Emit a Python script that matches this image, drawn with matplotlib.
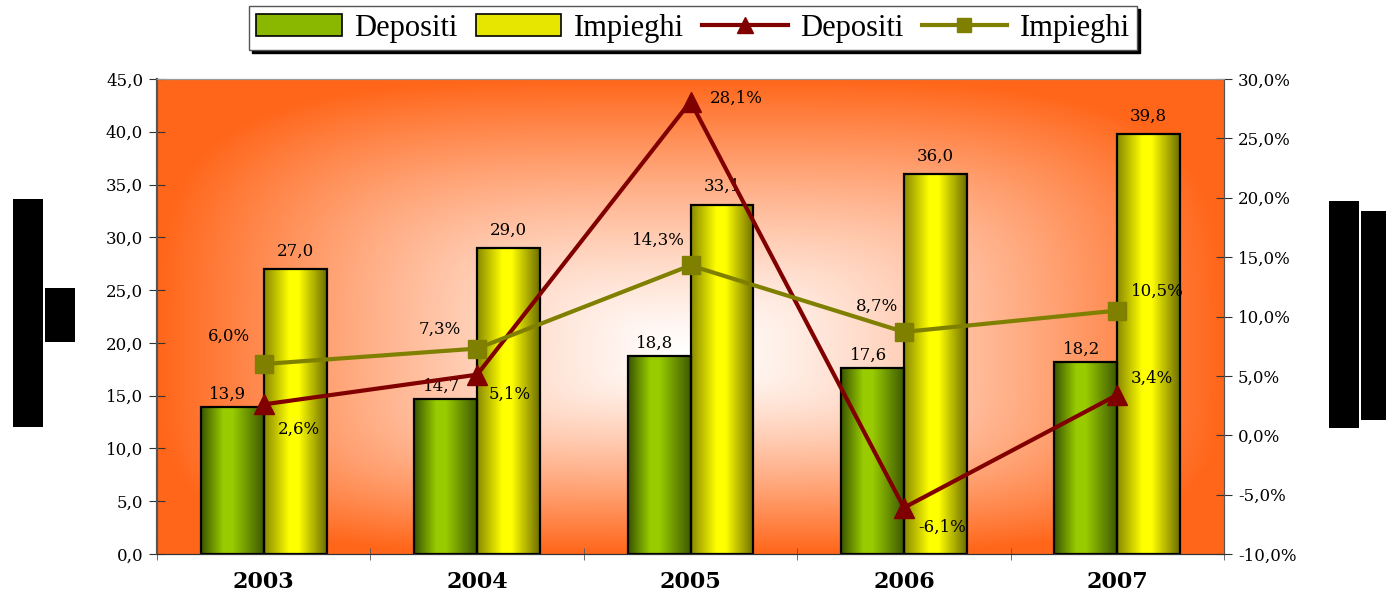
import numpy as np
import matplotlib.pyplot as plt
from matplotlib.colors import LinearSegmentedColormap
from matplotlib.patches import Rectangle, Patch
from matplotlib.lines import Line2D

plt.rcParams['font.family'] = ['DejaVu Serif', 'Liberation Serif']

years = ['2003', '2004', '2005', '2006', '2007']
depositi = [13.9, 14.7, 18.8, 17.6, 18.2]
impieghi = [27.0, 29.0, 33.1, 36.0, 39.8]
dep_growth = [2.6, 5.1, 28.1, -6.1, 3.4]
imp_growth = [6.0, 7.3, 14.3, 8.7, 10.5]

def fmt(v, pct=False):
    s = ('%.1f' % v).replace('.', ',')
    return s + '%' if pct else s

fig = plt.figure(figsize=(13.86, 5.98), dpi=100)
ax = fig.add_axes([157/1386, 44/598, 1067/1386, 475/598])
ax2 = ax.twinx()

x = np.arange(len(years))
w = 0.295
lab_fs = 12

# background: rectangular "from center" gradient, white middle, orange edges
gx, gy = np.meshgrid(np.linspace(0, 1, 400), np.linspace(0, 1, 400))
cy = 0.42
dx = np.abs(gx - 0.5) / 0.5
dy = np.where(gy > cy, (gy - cy) / (1 - cy), (cy - gy) / cy)
d = (dx ** 4 + dy ** 4) ** 0.25
t = np.clip(d, 0, 1) ** 1.3
orange = np.array([1.0, 0.40, 0.10])
img = (1 - t[..., None]) * np.array([1.0, 1.0, 1.0]) + t[..., None] * orange
ax.imshow(img, extent=[0, 1, 0, 1], transform=ax.transAxes, origin='lower',
          aspect='auto', zorder=0)

green_cm = LinearSegmentedColormap.from_list('g', [(0, '#3a5500'), (0.35, '#99cc00'),
                                                   (0.5, '#99cc00'), (1, '#3f5a00')])
yellow_cm = LinearSegmentedColormap.from_list('y', [(0, '#8a8a00'), (0.4, '#ffff00'),
                                                    (0.55, '#ffff00'), (1, '#6f6f00')])
grad = np.linspace(0, 1, 100)[None, :]
for i in range(len(years)):
    ax.imshow(grad, cmap=green_cm, extent=[x[i] - w, x[i], 0, depositi[i]],
              aspect='auto', zorder=2)
    ax.imshow(grad, cmap=yellow_cm, extent=[x[i], x[i] + w, 0, impieghi[i]],
              aspect='auto', zorder=2)
ax.bar(x - w / 2, depositi, w, fill=False, edgecolor='black', lw=1.6, zorder=3)
ax.bar(x + w / 2, impieghi, w, fill=False, edgecolor='black', lw=1.6, zorder=3)

for i in range(len(years)):
    ax.text(x[i] - w / 2 - 0.02, depositi[i] + 0.4, fmt(depositi[i]), ha='center',
            va='bottom', fontsize=lab_fs, zorder=4)
    ax.text(x[i] + w / 2, impieghi[i] + 0.9, fmt(impieghi[i]), ha='center',
            va='bottom', fontsize=lab_fs, zorder=4)

ax.set_xlim(-0.5, 4.5)
ax.set_ylim(0, 45)
ax.set_yticks(np.arange(0, 46, 5))
ax.set_yticklabels([fmt(v) for v in np.arange(0, 46, 5)], fontsize=lab_fs)
ax.set_xticks(x)
ax.set_xticklabels(years, fontsize=16, fontweight='bold')
ax.set_xticks(np.arange(-0.5, 5, 1), minor=True)
ax.tick_params(axis='x', which='major', length=0, pad=12)
ax.tick_params(axis='x', which='minor', length=9, direction='inout', color='#555555')
ax.tick_params(axis='y', length=12, direction='inout', color='#333333', pad=4)

ax2.plot(x, dep_growth, color='#800000', lw=3, marker='^', ms=15, zorder=5)
ax2.plot(x, imp_growth, color='#808000', lw=3, marker='s', ms=13, zorder=5)
ax2.set_ylim(-10, 30)
ax2.set_yticks(np.arange(-10, 31, 5))
ax2.set_yticklabels([fmt(v, True) for v in np.arange(-10, 31, 5)], fontsize=lab_fs)
ax2.tick_params(axis='y', length=12, direction='inout', color='#333333', pad=4)

dep_off = [(10, -12, 'left', 'top'), (8, -8, 'left', 'top'), (14, 2, 'left', 'center'),
           (10, -8, 'left', 'top'), (10, 6, 'left', 'bottom')]
imp_off = [(-10, 14, 'right', 'bottom'), (-12, 8, 'right', 'bottom'), (-4, 12, 'right', 'bottom'),
           (-4, 12, 'right', 'bottom'), (10, 8, 'left', 'bottom')]
for i in range(len(years)):
    ox, oy, ha, va = dep_off[i]
    ax2.annotate(fmt(dep_growth[i], True), (x[i], dep_growth[i]), xytext=(ox, oy),
                 textcoords='offset points', ha=ha, va=va, fontsize=lab_fs, zorder=6)
    ox, oy, ha, va = imp_off[i]
    ax2.annotate(fmt(imp_growth[i], True), (x[i], imp_growth[i]), xytext=(ox, oy),
                 textcoords='offset points', ha=ha, va=va, fontsize=lab_fs, zorder=6)

for a in (ax, ax2):
    a.spines['left'].set_color('#555555')
    a.spines['right'].set_color('#555555')
    a.spines['top'].set_color('#999999')
    a.spines['bottom'].set_color('#333333')
    a.spines['left'].set_linewidth(1.5)

handles = [Patch(facecolor='#8ab800', edgecolor='black', lw=1.2),
           Patch(facecolor='#e6e600', edgecolor='black', lw=1.2),
           Line2D([], [], color='#800000', lw=3, marker='^', ms=11),
           Line2D([], [], color='#808000', lw=3, marker='s', ms=10)]
fig.legend(handles, ['Depositi', 'Impieghi', 'Depositi', 'Impieghi'], ncol=4,
           loc='upper center', bbox_to_anchor=(0.5, 0.99), borderaxespad=0,
           frameon=True, fancybox=False, edgecolor='#555555',
           shadow={'color': 'black', 'alpha': 1}, handlelength=2.8,
           columnspacing=0.6, handletextpad=0.4, borderpad=0.25,
           prop={'family': 'Liberation Serif', 'size': 22})

# black blocks at the sides
for (x0, y0, x1, y1) in [(13, 199, 43, 427), (45, 288, 75, 342),
                         (1329, 201, 1359, 428), (1361, 211, 1386, 420)]:
    fig.patches.append(Rectangle((x0 / 1386, 1 - y1 / 598), (x1 - x0) / 1386,
                                 (y1 - y0) / 598, transform=fig.transFigure,
                                 facecolor='black', edgecolor='none'))

fig.savefig('out.png', dpi=100)
